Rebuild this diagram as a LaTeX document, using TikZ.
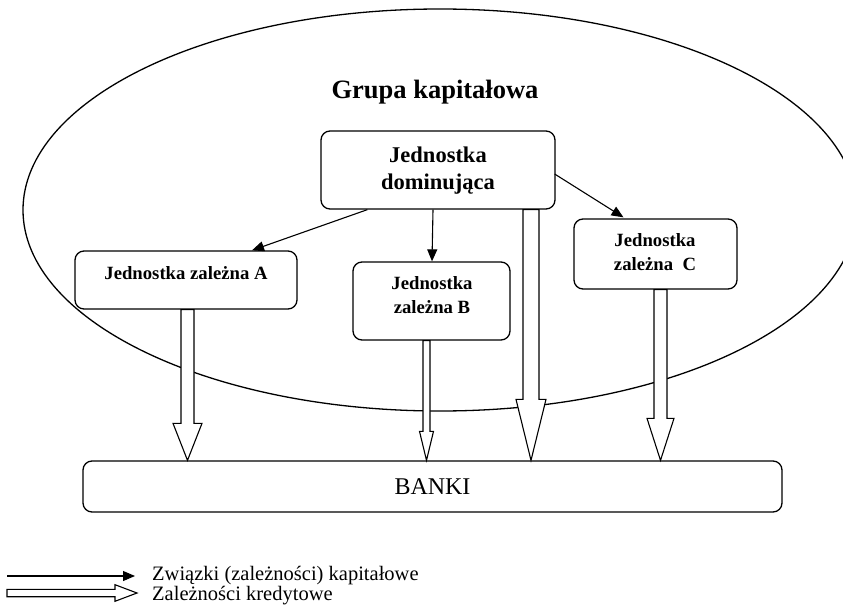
\documentclass[tikz,border=0pt]{standalone}
\usepackage{fontspec}
\setmainfont{Liberation Serif}
\usetikzlibrary{arrows.meta,calc}
\tikzset{
  box/.style={draw, line width=1.3pt, rounded corners=9pt, inner sep=0pt},
  labD/.style={font=\bfseries\fontsize{22.5}{27}\selectfont, align=center, inner sep=0pt},
  lab/.style={font=\bfseries\fontsize{18.7}{23.5}\selectfont, align=center, inner sep=0pt},
  legtext/.style={font=\fontsize{20.5}{22}\selectfont, anchor=base west, inner sep=0pt},
  capline/.style={-{Triangle[length=12pt,width=10pt]}, line width=1.1pt},
  creditline/.style={draw, fill=white, line width=1.1pt, line join=miter},
}
\newcommand{\creditarrow}[6]{%
  \path[creditline] let \p1=($(#1)+(#3,0)$), \p2=(#2) in
    (\x1-#4,\y1) -- (\x1-#4,\y2+#6) -- (\x1-#5,\y2+#6) -- (\x1,\y2)
    -- (\x1+#5,\y2+#6) -- (\x1+#4,\y2+#6) -- (\x1+#4,\y1) -- cycle;
}
\begin{document}
\begin{tikzpicture}[x=1pt,y=-1pt]
\useasboundingbox (0,0) rectangle (843,607);
\clip (0,0) rectangle (843,607);
% ellipse
\draw[line width=1.3pt] (440,210) ellipse [x radius=417, y radius=201];
\node[font=\bfseries\fontsize{26.5}{30}\selectfont, anchor=base, inner sep=0pt] (title) at (435,99) {Grupa kapitałowa};
% boxes
\node[box, fill=white, minimum width=234pt, minimum height=78pt] (D) at (438,170) {};
\node[labD] (Dt) at (438,171) {Jednostka\\dominująca};
\node[box, fill=white, minimum width=222pt, minimum height=58pt] (A) at (186,280) {};
\node[lab, anchor=base] (At) at (186,279) {Jednostka zależna A};
\node[box, fill=white, minimum width=157pt, minimum height=78pt] (B) at (431.5,301) {};
\node[lab] (Bt) at (432,295) {Jednostka\\zależna B};
\node[box, fill=white, minimum width=163pt, minimum height=70pt] (C) at (655.5,254) {};
\node[lab] (Ct) at (655,252) {Jednostka\\zależna\ \ C};
\node[box, minimum width=699pt, minimum height=51pt] (K) at (432.5,486.5) {};
\node[font=\fontsize{24}{28}\selectfont, inner sep=0pt] (Kt) at (432.5,487) {BANKI};
% capital links
\draw[capline] ($(D.south west)+(47,0)$) -- ($(A.north)+(66,0)$);
\draw[capline] ($(D.south)+(-5,0)$) -- ($(B.north)+(0.5,0)$);
\draw[capline] ($(D.east)+(-1,4)$) -- ($(C.north)+(-32,-1)$);
% credit links
\creditarrow{A.south}{K.north}{1.5}{6.5pt}{14.5pt}{37pt}
\creditarrow{B.south}{K.north}{-5}{3.5pt}{7pt}{29pt}
\creditarrow{D.south}{K.north}{93}{8pt}{15pt}{61pt}
\creditarrow{C.south}{K.north}{5}{6.5pt}{13.5pt}{42pt}
% legend
\coordinate (l1a) at (7,576);
\coordinate (l1b) at (135,576);
\draw[capline] (l1a) -- (l1b);
\node[legtext] (l1t) at (152,580) {Związki (zależności) kapitałowe};
\coordinate (l2a) at (7,593);
\coordinate (l2b) at (137,593);
\path[creditline] let \p1=(l2a), \p2=(l2b) in
  (\x1,\y1-3.7pt) -- (\x2-22pt,\y1-3.7pt) -- (\x2-22pt,\y1-8.3pt) -- (\x2,\y1)
  -- (\x2-22pt,\y1+8.3pt) -- (\x2-22pt,\y1+3.7pt) -- (\x1,\y1+3.7pt) -- cycle;
\node[legtext] (l2t) at (152,600) {Zależności kredytowe};
\end{tikzpicture}
\end{document}
